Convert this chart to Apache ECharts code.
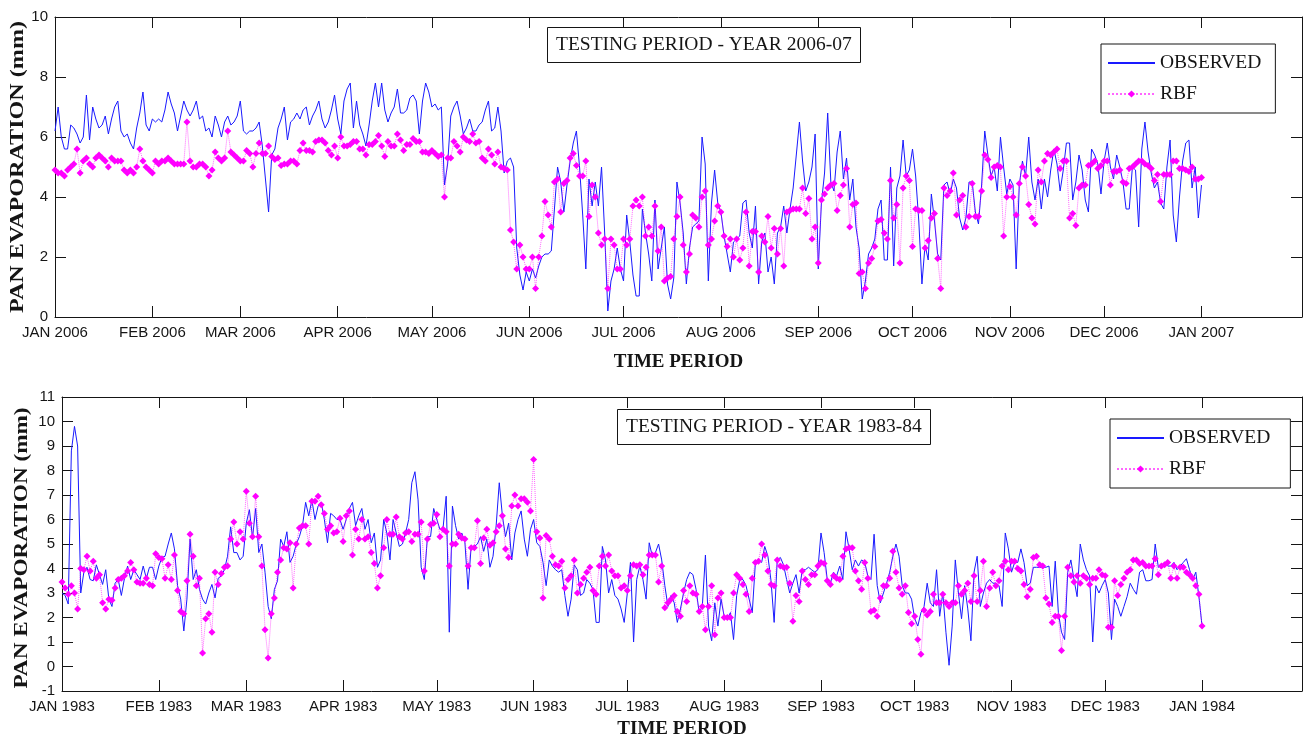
<!DOCTYPE html>
<html>
<head>
<meta charset="utf-8">
<title>Pan evaporation - testing period</title>
<script src="https://cdn.jsdelivr.net/npm/echarts@6.0.0/dist/echarts.min.js"></script>
<style>
html, body { margin: 0; padding: 0; background: #fff; }
#main { width: 1310px; height: 734px; }
</style>
</head>
<body>
<div id="main"></div>
<script>
var MONTHS = ['JAN', 'FEB', 'MAR', 'APR', 'MAY', 'JUN', 'JUL', 'AUG', 'SEP', 'OCT', 'NOV', 'DEC'];
var SERIES_NAMES = ['OBSERVED', 'RBF'];
var TITLES = ['TESTING PERIOD - YEAR 2006-07', 'TESTING PERIOD - YEAR 1983-84'];

/* daily pan evaporation (mm), testing year 2006-07, from 1 Jan 2006 */
var obs2006 = [
  6.2, 7.0, 6.0, 5.6, 5.6, 6.4, 6.3, 6.1, 5.8, 6.0,
  7.4, 5.9, 7.0, 6.6, 6.3, 6.4, 6.7, 6.1, 6.6, 7.0,
  7.2, 6.2, 6.0, 6.1, 5.8, 5.6, 6.3, 6.8, 7.5, 6.4,
  6.2, 6.6, 6.5, 6.6, 6.5, 6.9, 7.5, 7.1, 6.8, 6.2,
  6.7, 7.2, 6.9, 6.7, 6.9, 7.2, 6.6, 6.7, 6.2, 6.3,
  6.0, 6.7, 6.4, 6.0, 6.5, 6.7, 6.4, 6.5, 6.7, 7.2,
  6.2, 6.1, 6.2, 6.2, 6.3, 6.5, 5.7, 4.6, 3.5, 5.4,
  5.6, 6.3, 6.6, 7.0, 5.9, 6.5, 6.6, 6.8, 6.6, 6.9,
  7.0, 6.4, 6.7, 6.9, 7.2, 6.6, 6.3, 6.5, 6.9, 7.4,
  6.6, 6.1, 7.2, 7.6, 7.8, 6.3, 7.2, 6.4, 6.1, 5.7,
  6.4, 7.2, 7.8, 7.0, 7.8, 6.9, 6.5, 6.8, 7.0, 7.6,
  6.8, 6.8, 6.9, 7.3, 7.4, 7.2, 6.1, 7.2, 7.8, 7.5,
  7.0, 7.1, 6.9, 7.0, 4.4, 5.1, 6.7, 7.0, 7.2, 6.7,
  6.1, 6.3, 6.6, 6.2, 6.2, 6.4, 6.5, 6.9, 7.2, 6.2,
  6.3, 7.0, 6.2, 4.8, 5.2, 5.3, 5.0, 2.3, 1.4, 0.9,
  1.5, 1.2, 1.6, 1.3, 1.7, 2.0, 2.1, 2.1, 2.2, 3.6,
  5.0, 4.5, 3.5, 4.4, 5.2, 5.8, 6.2, 5.0, 3.4, 1.6,
  4.6, 3.7, 4.5, 3.7, 5.0, 2.8, 0.2, 1.2, 1.6, 2.3,
  1.6, 1.2, 3.4, 2.5, 1.4, 0.7, 0.7, 3.6, 2.8, 2.1,
  1.2, 3.9, 1.6, 2.3, 3.0, 1.1, 0.6, 1.3, 4.5, 3.8,
  2.8, 1.1, 2.3, 3.0, 3.1, 3.2, 6.0, 5.1, 1.2, 3.8,
  4.9, 3.8, 3.5, 2.7, 2.1, 1.5, 2.5, 2.6, 2.7, 3.8,
  3.9, 2.8, 2.3, 3.7, 1.1, 2.5, 2.8, 1.5, 2.0, 1.1,
  2.8, 3.0, 3.7, 2.8, 3.6, 4.3, 5.4, 6.5, 5.2, 4.2,
  4.5, 5.0, 6.1, 1.6, 3.8, 4.8, 6.8, 4.5, 4.2, 5.5,
  6.2, 4.6, 5.3, 3.9, 4.6, 3.0, 2.3, 0.6, 1.2, 2.1,
  2.3, 2.6, 3.6, 3.9, 1.9, 1.9, 5.0, 1.7, 4.3, 4.7,
  5.9, 4.7, 4.9, 5.6, 4.7, 3.2, 1.1, 2.4, 1.9, 4.1,
  3.2, 2.1, 1.9, 4.4, 4.5, 4.1, 4.6, 4.3, 3.3, 2.9,
  3.3, 4.5, 4.5, 3.5, 3.1, 4.4, 6.2, 5.4, 4.7, 5.0,
  4.2, 6.0, 5.0, 4.1, 4.6, 4.4, 1.6, 4.4, 5.2, 4.7,
  6.0, 4.5, 3.9, 4.6, 3.6, 4.6, 4.0, 4.9, 5.6, 5.1,
  4.2, 4.9, 5.8, 5.8, 3.9, 4.5, 5.4, 4.9, 3.9, 3.5,
  5.6, 5.4, 5.1, 4.1, 5.2, 5.8, 5.0, 4.6, 5.4, 5.0,
  4.5, 3.6, 3.6, 5.0, 4.9, 3.0, 5.6, 6.5, 5.5, 4.8,
  4.3, 4.5, 3.8, 3.6, 5.0, 5.9, 3.4, 2.5, 4.0, 5.2,
  5.8, 5.9, 4.3, 5.0, 3.3, 4.4
];
var rbf2006 = [
  4.9, 4.8, 4.8, 4.7, 4.9, 5.0, 5.1, 5.6, 4.8, 5.2,
  5.3, 5.1, 5.0, 5.3, 5.4, 5.3, 5.2, 5.0, 5.3, 5.2,
  5.2, 5.2, 4.9, 4.8, 4.9, 4.8, 5.0, 5.6, 5.2, 5.0,
  4.9, 4.8, 5.2, 5.1, 5.2, 5.2, 5.3, 5.2, 5.1, 5.1,
  5.1, 5.1, 6.5, 5.2, 5.0, 5.0, 5.1, 5.1, 5.0, 4.7,
  4.9, 5.5, 5.3, 5.2, 5.3, 6.2, 5.5, 5.4, 5.3, 5.2,
  5.2, 5.55, 5.45, 5.0, 5.45, 5.8, 5.45, 5.45, 5.7, 5.35,
  5.25, 5.3, 5.05, 5.1, 5.1, 5.2, 5.2, 5.1, 5.55, 5.8,
  5.55, 5.55, 5.5, 5.85, 5.9, 5.9, 5.8, 5.55, 5.4, 5.7,
  5.3, 6.0, 5.7, 5.7, 5.75, 5.85, 5.85, 5.6, 5.6, 5.4,
  5.75, 5.75, 5.85, 6.05, 5.7, 5.35, 5.85, 5.7, 5.7, 6.1,
  5.9, 5.55, 5.75, 5.75, 5.95, 5.85, 5.85, 5.5, 5.5, 5.45,
  5.55, 5.45, 5.35, 5.4, 4.0, 5.3, 5.3, 5.85, 5.7, 5.5,
  6.0, 5.9, 5.85, 6.1, 5.8, 5.85, 5.3, 5.2, 5.6, 5.4,
  5.1, 5.5, 5.0, 4.95, 4.9, 2.9, 2.5, 1.6, 2.4, 2.0,
  1.6, 1.6, 2.0, 0.95, 2.0, 2.7, 3.85, 3.4, 3.0, 4.5,
  4.6, 3.5, 4.45, 4.55, 5.3, 5.45, 5.05, 4.7, 4.7, 5.2,
  3.35, 4.4, 4.0, 2.8, 2.4, 2.6, 0.95, 2.6, 2.4, 1.6,
  1.6, 2.6, 2.4, 2.6, 3.7, 3.9, 3.7, 4.0, 2.7, 3.0,
  2.7, 3.7, 2.2, 3.0, 1.2, 1.3, 1.35, 2.6, 3.35, 4.0,
  2.4, 1.5, 2.1, 3.4, 3.3, 3.0, 4.0, 4.2, 2.4, 2.6,
  3.2, 3.7, 3.5, 2.7, 2.35, 2.6, 2.0, 2.6, 1.9, 2.3,
  3.5, 1.7, 2.85, 2.85, 1.5, 2.7, 2.5, 3.35, 2.3, 2.95,
  2.1, 2.95, 1.7, 3.5, 3.55, 3.6, 3.6, 3.6, 4.3, 3.45,
  3.95, 2.6, 3.0, 1.8, 3.9, 4.1, 4.3, 4.4, 4.45, 3.55,
  4.05, 4.4, 4.95, 3.0, 3.75, 3.8, 1.45, 1.5, 0.95, 1.8,
  1.95, 2.35, 3.2, 3.25, 2.8, 2.6, 4.55, 3.3, 3.75, 1.8,
  4.3, 4.7, 4.55, 2.35, 3.6, 3.55, 3.55, 2.3, 2.55, 3.3,
  3.45, 1.95, 0.95, 4.3, 4.05, 4.2, 4.8, 3.4, 3.9, 4.05,
  3.0, 3.35, 4.45, 3.35, 3.35, 4.2, 5.4, 5.25, 4.65, 5.0,
  5.05, 5.0, 2.7, 4.0, 4.35, 4.0, 3.4, 4.45, 5.0, 4.7,
  3.75, 3.3, 3.1, 4.9, 4.5, 5.2, 5.45, 5.4, 5.5, 5.6,
  4.95, 5.2, 5.2, 3.3, 3.45, 3.05, 4.3, 4.4, 4.4, 5.05,
  5.1, 5.2, 4.95, 5.05, 5.2, 5.2, 4.4, 4.85, 4.85, 4.9,
  4.5, 4.45, 4.95, 5.0, 5.1, 5.2, 5.2, 5.1, 5.05, 4.95,
  4.55, 4.75, 3.85, 4.75, 4.75, 4.75, 5.2, 5.2, 4.95, 4.95,
  4.9, 4.85, 5.0, 4.6, 4.6, 4.65
];

/* daily pan evaporation (mm), testing year 1983-84, from 1 Jan 1983 */
var obs1983 = [
  3.0, 2.9, 2.55, 8.8, 9.8, 9.0, 3.0, 3.85, 4.05, 3.55,
  3.5, 4.15, 3.75, 3.35, 3.95, 2.75, 2.45, 3.4, 3.55, 2.9,
  3.6, 4.1, 3.55, 3.95, 3.75, 3.55, 4.1, 3.6, 4.05, 4.05,
  3.55, 4.1, 4.45, 4.5, 5.0, 5.45, 4.8, 3.3, 2.75, 1.45,
  2.75, 5.2, 3.55, 3.95, 3.15, 2.75, 2.55, 3.0, 3.35, 2.8,
  3.6, 3.7, 3.95, 4.5, 5.7, 4.65, 4.65, 4.35, 4.5, 5.85,
  6.4, 5.25, 6.45, 4.65, 5.0, 3.85, 2.45, 1.95, 3.15, 3.5,
  5.2, 4.9, 5.5, 4.25, 4.5, 5.0, 5.3, 5.75, 6.7, 6.15,
  6.8, 6.0, 6.55, 6.7, 6.0, 5.05, 6.25, 6.15, 6.0, 6.0,
  5.6, 6.0, 6.45, 6.7, 5.75, 6.15, 6.45, 5.6, 6.0, 5.05,
  5.45, 4.05, 4.35, 6.0, 5.45, 4.35, 6.0, 5.45, 4.9, 5.0,
  5.45, 6.0, 7.5, 7.95, 6.8, 4.05, 3.55, 5.3, 5.3, 6.45,
  6.0, 5.6, 5.65, 6.95, 1.4, 6.55, 5.75, 5.2, 5.45, 5.05,
  3.15, 4.9, 4.9, 5.0, 5.3, 4.7, 5.2, 4.05, 4.5, 5.75,
  7.5, 6.15, 5.3, 5.85, 4.35, 5.45, 6.0, 6.35, 5.2, 4.5,
  5.6, 6.0, 5.05, 4.9, 4.25, 3.3, 4.35, 4.1, 3.95, 3.85,
  3.95, 2.9, 2.05, 2.75, 4.15, 3.95, 2.9, 3.0, 3.55, 3.4,
  3.15, 1.8, 1.8, 4.9, 4.35, 3.0, 3.55, 2.9, 2.75, 2.35,
  1.8, 3.0, 4.25, 1.0, 3.55, 4.1, 3.55, 2.75, 5.05, 4.5,
  4.65, 5.0, 4.35, 3.3, 2.45, 2.9, 2.6, 1.8, 2.35, 3.0,
  3.55, 3.85, 3.75, 3.15, 2.2, 2.45, 4.55, 1.65, 1.05, 2.6,
  1.65, 2.75, 2.05, 1.95, 2.2, 1.1, 2.9, 3.55, 3.55, 3.3,
  2.75, 2.2, 4.25, 4.35, 4.25, 4.9, 4.5, 3.5, 1.8, 4.35,
  4.45, 4.15, 3.55, 3.0, 3.4, 3.75, 3.0, 3.95, 3.95, 4.05,
  3.95, 3.85, 3.95, 5.45, 4.65, 3.55, 3.4, 3.85, 3.7, 4.1,
  3.55, 5.5, 4.8, 3.95, 4.35, 4.1, 4.35, 4.25, 3.7, 3.55,
  5.4, 3.3, 2.6, 3.0, 3.4, 3.85, 4.5, 5.0, 4.5, 3.3,
  3.0, 3.0, 2.75, 1.95, 1.65, 2.2, 2.45, 3.4, 2.6, 2.45,
  3.95, 2.05, 3.0, 1.4, 0.05, 1.65, 4.35, 3.0, 1.95, 3.3,
  2.35, 1.05, 3.85, 4.5, 2.45, 3.0, 3.4, 3.55, 3.4, 3.4,
  3.3, 2.45, 5.45, 4.8, 3.85, 4.25, 4.25, 4.8, 4.25, 3.3,
  3.4, 4.05, 4.05, 4.05, 4.05, 4.05, 4.1, 2.45, 4.3, 2.2,
  1.4, 1.1, 3.85, 4.35, 3.55, 2.85, 5.0, 4.35, 3.95, 3.7,
  1.0, 3.3, 3.0, 3.3, 3.55, 3.0, 1.1, 2.75, 2.45, 2.05,
  2.45, 2.85, 3.4, 3.15, 2.95, 3.85, 3.95, 3.5, 3.5, 3.55,
  5.0, 4.05, 4.1, 4.25, 4.1, 4.1, 4.25, 3.95, 4.1, 4.25,
  4.4, 3.95, 3.55, 3.85, 2.85, 1.65
];
var rbf1983 = [
  3.45, 3.2, 2.95, 3.3, 3.0, 2.35, 4.0, 3.95, 4.5, 3.9,
  4.3, 3.6, 3.75, 2.6, 2.35, 2.75, 2.7, 3.2, 3.55, 3.6,
  3.7, 3.9, 4.25, 3.95, 3.45, 3.4, 3.4, 3.6, 3.35, 3.3,
  4.6, 4.45, 4.4, 3.6, 4.15, 3.55, 4.55, 3.1, 2.25, 2.15,
  3.5, 5.4, 4.5, 3.3, 3.6, 0.55, 1.95, 2.15, 1.4, 3.85,
  3.35, 3.8, 4.05, 4.1, 5.2, 5.9, 5.0, 5.5, 5.2, 7.15,
  5.85, 5.3, 6.95, 5.3, 4.1, 1.5, 0.35, 2.15, 2.8, 3.85,
  4.35, 4.85, 4.8, 5.05, 3.2, 5.0, 5.65, 5.75, 5.75, 5.0,
  6.75, 6.75, 6.95, 6.6, 6.25, 5.6, 5.75, 5.45, 5.5, 6.05,
  5.1, 6.15, 6.35, 4.55, 5.6, 5.2, 6.0, 5.2, 5.3, 4.65,
  4.2, 3.2, 3.7, 4.85, 6.0, 5.4, 5.4, 6.1, 5.3, 5.2,
  5.45, 5.5, 5.1, 5.4, 5.4, 5.9, 3.9, 5.2, 5.8, 5.85,
  6.2, 5.3, 5.6, 5.5, 4.1, 5.0, 5.0, 5.4, 5.25, 5.2,
  4.1, 4.85, 4.85, 5.95, 4.2, 5.25, 5.6, 4.95, 5.05, 5.5,
  5.75, 6.15, 4.8, 4.45, 6.55, 7.0, 6.55, 6.85, 6.85, 6.7,
  6.35, 8.45, 5.5, 5.25, 2.8, 5.35, 5.2, 4.5, 4.15, 4.1,
  4.3, 3.2, 3.55, 3.7, 4.35, 3.0, 3.35, 3.6, 3.85, 4.05,
  3.1, 2.95, 4.1, 4.5, 4.1, 4.55, 3.9, 3.7, 3.7, 3.2,
  3.3, 3.1, 3.7, 4.15, 4.1, 4.15, 3.75, 4.05, 4.55, 4.55,
  4.55, 3.45, 4.1, 2.4, 2.6, 2.75, 2.9, 2.25, 2.05, 3.1,
  2.65, 3.3, 3.0, 2.95, 2.25, 2.45, 1.5, 2.45, 3.3, 1.3,
  2.8, 3.0, 2.0, 2.0, 2.0, 3.0, 3.75, 3.6, 3.35, 2.95,
  2.25, 3.6, 4.25, 4.3, 5.0, 4.55, 3.9, 3.35, 3.3, 4.35,
  4.1, 4.05, 4.05, 3.4, 1.85, 2.9, 2.65, 3.9, 3.55, 3.35,
  3.75, 3.75, 4.1, 4.25, 4.2, 3.5, 3.35, 3.7, 3.6, 3.55,
  4.5, 4.8, 4.85, 4.85, 3.9, 3.5, 3.15, 4.25, 3.6, 2.25,
  2.3, 2.05, 2.8, 3.3, 3.3, 3.6, 4.7, 3.85, 3.2, 2.95,
  3.3, 2.2, 1.75, 2.05, 1.1, 0.5, 2.3, 2.1, 2.25, 2.95,
  2.6, 2.6, 2.95, 2.6, 2.45, 2.6, 2.6, 3.3, 2.95, 3.1,
  3.4, 2.65, 3.7, 2.65, 3.1, 4.3, 2.45, 3.2, 3.85, 3.3,
  3.5, 4.1, 4.3, 3.95, 4.3, 4.3, 4.0, 3.9, 3.35, 2.85,
  3.15, 4.45, 4.5, 4.15, 4.1, 2.8, 2.55, 1.8, 2.05, 2.05,
  0.65, 2.05, 4.05, 3.7, 3.45, 3.7, 3.4, 3.7, 3.6, 3.35,
  3.6, 3.6, 3.95, 3.75, 3.7, 1.6, 1.6, 3.5, 2.9, 3.35,
  3.6, 3.85, 3.95, 4.35, 4.35, 4.2, 4.25, 4.1, 4.1, 4.1,
  4.4, 3.75, 4.1, 4.15, 4.25, 3.6, 4.1, 3.6, 4.05, 4.05,
  3.85, 3.75, 3.6, 3.3, 2.95, 1.65
];

var DAYS_ON_AXIS = 398;   // axis runs a little past 1 Jan of the next year
var LAST_TICK_DAY = 365;

function dayCategories(year) {
    var out = [];
    for (var i = 0; i < DAYS_ON_AXIS; i++) {
        out.push(new Date(Date.UTC(year, 0, 1 + i)).toISOString().slice(0, 10));
    }
    return out;
}
var days2006 = dayCategories(2006);
var days1983 = dayCategories(1983);

function isMonthStart(index, value) {
    return index <= LAST_TICK_DAY && value.slice(8) === '01';
}
function monthLabel(value) {
    return MONTHS[+value.slice(5, 7) - 1] + ' ' + value.slice(0, 4);
}

var INK = '#151515';
var BLUE = '#1a1aff';
var MAGENTA = '#ff00ff';
var SANS = '"Liberation Sans", Arial, sans-serif';
var SERIF = '"Liberation Serif", "Times New Roman", serif';

function xAxisPair(grid, days, labelMargin, nameGap) {
    function base() {
        return {
            gridIndex: grid,
            type: 'category',
            data: days,
            boundaryGap: false,
            axisLine: { onZero: false, lineStyle: { color: INK, width: 1 } },
            axisTick: { inside: true, length: 11, interval: isMonthStart, lineStyle: { color: INK } },
            splitLine: { show: false }
        };
    }
    var bottom = base();
    bottom.position = 'bottom';
    bottom.axisLabel = {
        interval: isMonthStart, formatter: monthLabel, margin: labelMargin,
        fontFamily: SANS, fontSize: 15, color: INK
    };
    bottom.name = 'TIME PERIOD';
    bottom.nameLocation = 'middle';
    bottom.nameGap = nameGap;
    bottom.nameTextStyle = { fontFamily: SERIF, fontWeight: 'bold', fontSize: 19, color: INK };
    var top = base();
    top.position = 'top';
    top.axisLabel = { show: false };
    return [bottom, top];
}

function yAxisPair(grid, min, max, step) {
    function base() {
        return {
            gridIndex: grid,
            type: 'value',
            min: min, max: max, interval: step,
            axisLine: { show: true, onZero: false, lineStyle: { color: INK, width: 1 } },
            axisTick: { show: true, inside: true, length: 11, lineStyle: { color: INK } },
            splitLine: { show: false }
        };
    }
    var left = base();
    left.position = 'left';
    left.axisLabel = { margin: 7, fontFamily: SANS, fontSize: 15, color: INK };
    var right = base();
    right.position = 'right';
    right.axisLabel = { show: false };
    return [left, right];
}

function obsSeries(xi, yi, data) {
    return {
        name: SERIES_NAMES[0], type: 'line', xAxisIndex: xi, yAxisIndex: yi, data: data,
        symbol: 'none', lineStyle: { color: BLUE, width: 1 }, itemStyle: { color: BLUE }, z: 2
    };
}
function rbfSeries(xi, yi, data) {
    return {
        name: SERIES_NAMES[1], type: 'line', xAxisIndex: xi, yAxisIndex: yi, data: data,
        symbol: 'diamond', symbolSize: 7, showSymbol: true, showAllSymbol: true,
        lineStyle: { color: MAGENTA, width: 1, type: 'dotted', opacity: 0.6 },
        itemStyle: { color: MAGENTA }, z: 3
    };
}

function legendBox(left, top, padRight) {
    return {
        left: left, top: top, orient: 'vertical',
        // plain line for OBSERVED: hide the marker drawn in the legend sample
        data: [{ name: SERIES_NAMES[0], itemStyle: { opacity: 0 } }, SERIES_NAMES[1]],
        selectedMode: false,
        borderColor: INK, borderWidth: 1, padding: [9, padRight, 9, 6],
        itemGap: 11, itemWidth: 47, itemHeight: 9,
        textStyle: { fontFamily: SERIF, fontSize: 19.5, color: INK }
    };
}
function titleBox(text, left, top) {
    return {
        text: text, left: left, top: top,
        borderColor: INK, borderWidth: 1, padding: [8, 9],
        textStyle: { fontFamily: SERIF, fontSize: 19.5, fontWeight: 'normal', color: INK }
    };
}
function yName(x, y, stretch) {
    return {
        type: 'text', x: x, y: y, rotation: Math.PI / 2, scaleX: stretch,
        style: {
            text: 'PAN EVAPORATION (mm)', fill: INK,
            font: 'bold 18px ' + SERIF,
            textAlign: 'center', textVerticalAlign: 'middle',
            align: 'center', verticalAlign: 'middle'
        }
    };
}

var chart = echarts.init(document.getElementById('main'), null, { renderer: 'canvas' });
var option = {
    animation: false,
    backgroundColor: '#fff',
    title: [
        titleBox(TITLES[0], 547, 27),
        titleBox(TITLES[1], 617, 409)
    ],
    legend: [
        legendBox(1101, 44, 14),
        legendBox(1110, 419, 20)
    ],
    // fixed plot boxes: do not let the axis name squeeze the lower panel
    grid: [
        { left: 55, right: 8, top: 17, height: 300, outerBoundsMode: 'none' },
        { left: 62, right: 8, top: 397, height: 294, outerBoundsMode: 'none' }
    ],
    xAxis: xAxisPair(0, days2006, 8, 36).concat(xAxisPair(1, days1983, 8, 29)),
    yAxis: yAxisPair(0, 0, 10, 2).concat(yAxisPair(1, -1, 11, 1)),
    series: [
        obsSeries(0, 0, obs2006),
        rbfSeries(0, 0, rbf2006),
        obsSeries(2, 2, obs1983),
        rbfSeries(2, 2, rbf1983)
    ],
    graphic: [
        yName(18, 167, 1.34),
        yName(22, 548, 1.29)
    ]
};
chart.setOption(option);
</script>
</body>
</html>
